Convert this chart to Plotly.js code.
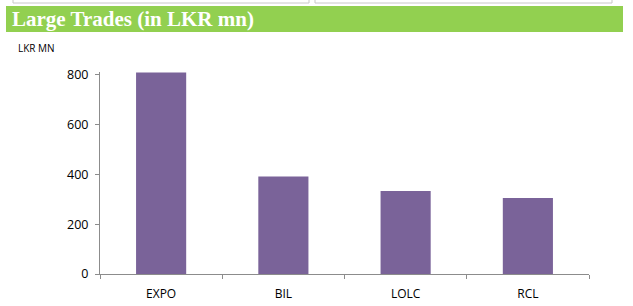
<!DOCTYPE html>
<html>
<head>
<meta charset="utf-8">
<script src="https://cdn.plot.ly/plotly-3.0.1.min.js"></script>
<style>
html,body{margin:0;padding:0;background:#fff;overflow:hidden;}
#chart{width:633px;height:306px;}
</style>
</head>
<body>
<div id="chart"></div>
<script>
const categories = ["EXPO", "BIL", "LOLC", "RCL"];
const values = [810, 392, 334, 306];
const yTicks = [0, 200, 400, 600, 800];

const trace = {
  type: "bar",
  x: categories,
  y: values,
  marker: {color: "#7a6399", line: {width: 0}},
  hoverinfo: "x+y",
  cliponaxis: false
};

const M = {l: 100, r: 44, t: 72, b: 32};
const plotW = 633 - M.l - M.r, plotH = 306 - M.t - M.b;
function px(x){ return (x - M.l) / plotW; }
function py(y){ return (306 - M.b - y) / plotH; }

const layout = {
  width: 633,
  height: 306,
  margin: {l: M.l, r: M.r, t: M.t, b: M.b, pad: 0},
  paper_bgcolor: "#ffffff",
  plot_bgcolor: "#ffffff",
  bargap: 0.59,
  showlegend: false,
  font: {family: "Open Sans, sans-serif", size: 12, color: "#000"},
  xaxis: {
    type: "category",
    showline: true,
    linecolor: "#8c8c8c",
    linewidth: 1,
    ticks: "outside",
    tickson: "boundaries",
    ticklen: 4,
    tickcolor: "#8c8c8c",
    ticklabelstandoff: 9,
    showgrid: false,
    zeroline: false,
    tickfont: {family: "Open Sans, sans-serif", size: 12, color: "#000"},
    fixedrange: true
  },
  yaxis: {
    range: [0, 812],
    tickvals: yTicks,
    ticktext: yTicks.map(String),
    showline: true,
    linecolor: "#8c8c8c",
    linewidth: 1,
    ticks: "outside",
    ticklen: 4,
    tickcolor: "#8c8c8c",
    ticklabelstandoff: 4,
    showgrid: false,
    zeroline: false,
    tickfont: {family: "Open Sans, sans-serif", size: 12.5, color: "#000"},
    fixedrange: true
  },
  shapes: [
    {type: "rect", xref: "paper", yref: "paper", x0: px(13), x1: px(309), y0: py(3), y1: py(-5),
     line: {color: "#c8c8c8", width: 1}, fillcolor: "rgba(0,0,0,0)"},
    {type: "rect", xref: "paper", yref: "paper", x0: px(315), x1: px(612), y0: py(3), y1: py(-5),
     line: {color: "#c8c8c8", width: 1}, fillcolor: "rgba(0,0,0,0)"},
    {type: "rect", xref: "paper", yref: "paper", x0: px(6), x1: px(623), y0: py(32), y1: py(6),
     line: {width: 0}, fillcolor: "#92d050", layer: "below"}
  ],
  annotations: [
    {xref: "paper", yref: "paper", x: px(16), y: py(48), xanchor: "left", yanchor: "middle",
     text: "LKR MN", showarrow: false,
     font: {family: "Open Sans, sans-serif", size: 10, color: "#000"}},
    {xref: "paper", yref: "paper", x: px(10), y: py(19), xanchor: "left", yanchor: "middle",
     text: "Large Trades (in LKR mn)", showarrow: false,
     font: {family: "Liberation Serif, DejaVu Serif, serif", size: 21, color: "#ffffff", weight: "bold"}}
  ]
};

Plotly.newPlot("chart", [trace], layout, {displayModeBar: false, staticPlot: true});
</script>
</body>
</html>
